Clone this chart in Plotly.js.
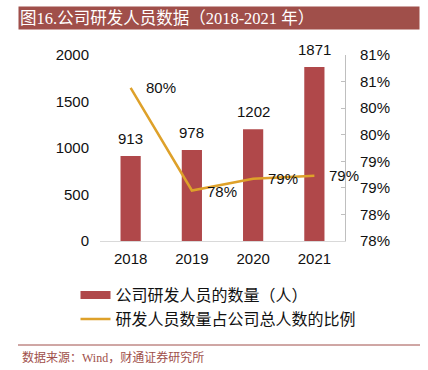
<!DOCTYPE html>
<html>
<head>
<meta charset="utf-8">
<script src="https://cdn.plot.ly/plotly-3.0.1.min.js"></script>
<style>html,body{margin:0;padding:0;background:#fff;}#chart{width:428px;height:370px;}</style>
</head>
<body>
<div id="chart"></div>
<script>
const years = ['2018', '2019', '2020', '2021'];
const staffCount = [913, 978, 1202, 1871];
const staffShare = [0.8038, 0.7845, 0.7867, 0.7873];
const shareTickVals = [0.775, 0.78, 0.785, 0.79, 0.795, 0.80, 0.805, 0.81];
const shareTickText = ['78%', '78%', '79%', '79%', '80%', '80%', '81%', '81%'];
const countTickVals = [0, 500, 1000, 1500, 2000];

const barName = '公司研发人员的数量（人）';
const lineName = '研发人员数量占公司总人数的比例';
const titleText = '图16.公司研发人员数据（2018-2021 年）';
const sourceText = '数据来源：Wind，财通证券研究所';

const barColor = '#B0484A';
const lineColor = '#DEA12A';
const brand = '#A04F4A';
const sans = 'Liberation Sans, Arial, sans-serif';
const cjk = 'Noto Sans CJK SC, sans-serif';
const serif = 'Liberation Serif, Noto Sans CJK SC, serif';
const labelFont = {family: sans, size: 15, color: '#111'};

const traces = [
  {
    type: 'bar', x: years, y: staffCount, name: barName, showlegend: false,
    marker: {color: barColor}, width: 0.33, hoverinfo: 'skip'
  },
  {
    type: 'scatter', mode: 'lines', x: years, y: years.map(() => null), name: barName,
    line: {color: barColor, width: 8}, hoverinfo: 'skip'
  },
  {
    type: 'scatter', mode: 'lines', x: years, y: staffShare, yaxis: 'y2', name: lineName,
    line: {color: lineColor, width: 2.5}, hoverinfo: 'skip'
  }
];

const barLabels = years.map((yr, i) => ({
  xref: 'x', yref: 'y', x: i, y: staffCount[i], text: String(staffCount[i]),
  showarrow: false, xanchor: 'center', yanchor: 'bottom', yshift: 7, font: labelFont
}));
const shareLabels = years.map((yr, i) => ({
  xref: 'x', yref: 'y2', x: i, y: staffShare[i], text: Math.round(staffShare[i] * 100) + '%',
  showarrow: false, xanchor: 'left', yanchor: 'middle', xshift: 13, yshift: i === 1 ? -1 : 0,
  font: labelFont
}));

const layout = {
  width: 428, height: 370,
  margin: {l: 100, r: 83, t: 55, b: 129},
  paper_bgcolor: '#fff', plot_bgcolor: '#fff',
  showlegend: true,
  legend: {
    x: -0.1, xanchor: 'left', y: -0.2, yanchor: 'top',
    orientation: 'v', font: {family: cjk, size: 16, color: '#111'},
    bgcolor: 'rgba(0,0,0,0)', tracegroupgap: 0
  },
  xaxis: {
    type: 'category', categoryorder: 'array', categoryarray: years, range: [-0.5, 3.5],
    showgrid: false, showline: true, linecolor: '#D9D9D9', linewidth: 1,
    ticks: '', tickfont: labelFont, ticklabelstandoff: 4,
    fixedrange: true
  },
  yaxis: {
    range: [0, 2000], tickvals: countTickVals, showgrid: false, zeroline: false,
    showline: false, ticks: '', tickfont: labelFont,
    ticklabelstandoff: 10, fixedrange: true
  },
  yaxis2: {
    overlaying: 'y', side: 'right', range: [0.775, 0.81],
    tickvals: shareTickVals, ticktext: shareTickText,
    showgrid: false, zeroline: false, showline: true, linecolor: '#BFBFBF', linewidth: 1,
    ticks: 'inside', ticklen: 4, tickcolor: '#BFBFBF',
    tickfont: labelFont, ticklabelstandoff: 11,
    fixedrange: true
  },
  annotations: [
    {
      xref: 'paper', yref: 'paper', x: (18 - 100) / 245, y: (241 - 18) / 186,
      xanchor: 'left', yanchor: 'middle', text: titleText, showarrow: false,
      align: 'left', width: 398, height: 20, bgcolor: brand, borderpad: 1,
      font: {family: serif, size: 16.5, color: '#fff'}
    },
    {
      xref: 'paper', yref: 'paper', x: (20 - 100) / 245, y: (241 - 357) / 186,
      xanchor: 'left', yanchor: 'middle', text: sourceText, showarrow: false,
      font: {family: serif, size: 12, color: brand}
    }
  ].concat(barLabels, shareLabels),
  shapes: [
    {
      type: 'line', xref: 'paper', yref: 'paper',
      x0: (18 - 100) / 245, x1: (420 - 100) / 245,
      y0: (241 - 345) / 186, y1: (241 - 345) / 186,
      line: {color: brand, width: 1}
    }
  ]
};

Plotly.newPlot('chart', traces, layout, {staticPlot: true, displayModeBar: false});
</script>
</body>
</html>
